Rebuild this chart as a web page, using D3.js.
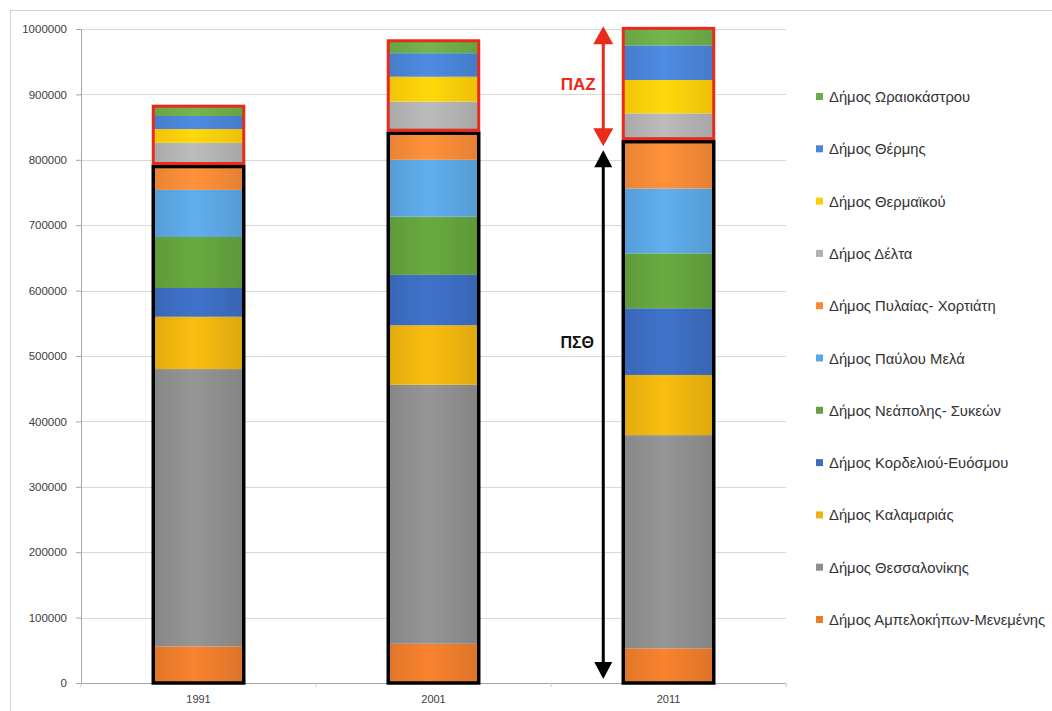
<!DOCTYPE html>
<html>
<head>
<meta charset="utf-8">
<script src="https://cdn.jsdelivr.net/npm/d3@7"></script>
<style>
  body { margin: 0; background: white; }
  text { font-family: "Liberation Sans", "DejaVu Sans", sans-serif; }
  .tick text { fill: #404040; font-size: 11.5px; }
  .legend-text { fill: #333; font-size: 14.8px; }
</style>
</head>
<body>
<svg width="1052" height="711"></svg>
<script>
// stacking order, bottom to top
const municipalities = [
  'Δήμος Αμπελοκήπων-Μενεμένης',
  'Δήμος Θεσσαλονίκης',
  'Δήμος Καλαμαριάς',
  'Δήμος Κορδελιού-Ευόσμου',
  'Δήμος Νεάπολης- Συκεών',
  'Δήμος Παύλου Μελά',
  'Δήμος Πυλαίας- Χορτιάτη',
  'Δήμος Δέλτα',
  'Δήμος Θερμαϊκού',
  'Δήμος Θέρμης',
  'Δήμος Ωραιοκάστρου'
]
const colors = ['#EC7C2C', '#8E8E8E', '#EDB40F', '#3C6DC0', '#64A23D', '#5BA6E3',
                '#F58A38', '#B2B2B2', '#FFCE0A', '#4A84D6', '#6DAD49']

const years = ['1991', '2001', '2011']
const values1991 = [56000, 424000, 80000, 44000, 78000, 72000, 38000, 34000, 21000, 20000, 15000]
const values2001 = [60000, 396000, 91000, 77000, 89000, 87000, 43000, 46000, 38000, 36000, 19000]
const values2011 = [53000, 326000, 92000, 102000, 84000, 99000, 74000, 41000, 51000, 53000, 26000]

const yTicks = [0, 100000, 200000, 300000, 400000, 500000, 600000, 700000, 800000, 900000, 1000000]

// first 7 municipalities = ΠΣΘ, last 4 = ΠΑΖ
const groupPSTh = 'ΠΣΘ'
const groupPAZ = 'ΠΑΖ'
const splitIndex = 7

;(function(d3){
    const svg = d3.select('svg')
    const plotLeft = 81, plotRight = 786, plotTop = 29, plotBottom = 683

    const table = years.map((y, i) => {
        const row = { year: y }
        const vals = [values1991, values2001, values2011][i]
        municipalities.forEach((m, j) => row[m] = vals[j])
        return row
    })
    const stacked = d3.stack().keys(municipalities)(table)

    const xScale = d3.scaleBand()
        .domain(years)
        .range([plotLeft, plotRight])
        .paddingInner(0.615)
        .paddingOuter(0.3075)
    const yScale = d3.scaleLinear()
        .domain([0, 1000000])
        .range([plotBottom, plotTop])

    // outer frame
    svg.append('rect')
        .attr('x', 10.5).attr('y', 10.5)
        .attr('width', 1045).attr('height', 720)
        .attr('fill', 'none').attr('stroke', '#d4d4d4')

    // gradients, lighter toward the middle of the bar
    const defs = svg.append('defs')
    colors.forEach((c, i) => {
        const g = defs.append('linearGradient').attr('id', 'grad' + i)
            .attr('x1', '0%').attr('x2', '100%').attr('y1', '0%').attr('y2', '0%')
        const base = d3.color(c)
        g.append('stop').attr('offset', '0%').attr('stop-color', base.darker(0.15))
        g.append('stop').attr('offset', '45%').attr('stop-color', base.brighter(0.15))
        g.append('stop').attr('offset', '100%').attr('stop-color', base.darker(0.2))
    })

    // gridlines
    svg.append('g').selectAll('line')
        .data(yTicks)
        .enter().append('line')
        .attr('x1', plotLeft).attr('x2', plotRight)
        .attr('y1', d => Math.round(yScale(d)) + 0.5)
        .attr('y2', d => Math.round(yScale(d)) + 0.5)
        .attr('stroke', '#d9d9d9')

    // y axis
    const yAxisG = svg.append('g')
        .attr('transform', `translate(${plotLeft}, 0)`)
        .call(d3.axisLeft(yScale).tickValues(yTicks).tickFormat(d3.format('d')).tickSize(5).tickPadding(9))
    yAxisG.select('.domain').attr('stroke', '#a6a6a6')
    yAxisG.selectAll('.tick line').attr('stroke', '#a6a6a6')

    // x axis
    const xAxisG = svg.append('g')
        .attr('transform', `translate(0, ${plotBottom})`)
        .call(d3.axisBottom(xScale).tickSize(0).tickPadding(12))
    xAxisG.select('.domain').attr('stroke', '#a6a6a6')
    xAxisG.selectAll('.tick text').style('font-size', '11px')
    xAxisG.selectAll('.sep')
        .data(d3.range(years.length + 1))
        .enter().append('line')
        .attr('x1', i => plotLeft + i * xScale.step())
        .attr('x2', i => plotLeft + i * xScale.step())
        .attr('y1', 0).attr('y2', 4)
        .attr('stroke', '#c8c8c8')

    // stacked segments
    const layers = svg.append('g').selectAll('g')
        .data(stacked)
        .enter().append('g')
        .attr('fill', (d, i) => `url(#grad${i})`)
    layers.selectAll('rect')
        .data(d => d)
        .enter().append('rect')
        .attr('x', d => xScale(d.data.year))
        .attr('width', xScale.bandwidth())
        .attr('y', d => yScale(d[1]))
        .attr('height', d => yScale(d[0]) - yScale(d[1]))

    // group boxes
    const boxG = svg.append('g').attr('fill', 'none')
    years.forEach((y, i) => {
        const low = stacked[splitIndex - 1][i][1]
        const top = stacked[municipalities.length - 1][i][1]
        boxG.append('rect')
            .attr('x', xScale(y)).attr('width', xScale.bandwidth())
            .attr('y', yScale(low) + 1.5).attr('height', yScale(0) - yScale(low) - 1.5)
            .attr('stroke', '#000').attr('stroke-width', 3.5)
        boxG.append('rect')
            .attr('x', xScale(y)).attr('width', xScale.bandwidth())
            .attr('y', yScale(top)).attr('height', yScale(low) - yScale(top) - 1.5)
            .attr('stroke', '#EA2A1A').attr('stroke-width', 3)
    })

    // annotation arrows for the last year
    const lastYear = years[years.length - 1]
    const li = years.length - 1
    const ax = xScale(lastYear) - 20
    const psthTop = stacked[splitIndex - 1][li][1]
    const pazTop = stacked[municipalities.length - 1][li][1]

    const arrow = (y1, y2, color, headW, headH) => {
        const g = svg.append('g')
        const top = Math.min(y1, y2), bottom = Math.max(y1, y2)
        g.append('line')
            .attr('x1', ax).attr('x2', ax)
            .attr('y1', top + headH - 2).attr('y2', bottom - headH + 2)
            .attr('stroke', color).attr('stroke-width', 3)
        g.append('path')
            .attr('d', `M${ax},${top} L${ax - headW / 2},${top + headH} L${ax + headW / 2},${top + headH} Z`)
            .attr('fill', color)
        g.append('path')
            .attr('d', `M${ax},${bottom} L${ax - headW / 2},${bottom - headH} L${ax + headW / 2},${bottom - headH} Z`)
            .attr('fill', color)
    }
    arrow(yScale(0) - 4, yScale(psthTop) + 10, '#000', 18, 17)
    arrow(yScale(psthTop) + 6, yScale(pazTop) - 2, '#EA2A1A', 20, 18)

    svg.append('text')
        .text(groupPAZ)
        .attr('x', ax - 25).attr('y', (yScale(psthTop) + yScale(pazTop)) / 2 + 6)
        .attr('text-anchor', 'middle')
        .attr('fill', '#EA2A1A')
        .style('font-size', '17px').style('font-weight', 'bold')
    svg.append('text')
        .text(groupPSTh)
        .attr('x', ax - 26).attr('y', 348)
        .attr('text-anchor', 'middle')
        .attr('fill', '#111')
        .style('font-size', '16px').style('font-weight', 'bold')

    // legend, top item = top of stack
    const legendOrder = municipalities.map((m, i) => ({ name: m, color: colors[i] })).reverse()
    const legendG = svg.append('g')
        .attr('transform', 'translate(816, 97)')
    const item = legendG.selectAll('g')
        .data(legendOrder)
        .enter().append('g')
        .attr('transform', (d, i) => `translate(0, ${i * 52.3})`)
    item.append('rect')
        .attr('x', 0).attr('y', -4)
        .attr('width', 7).attr('height', 7)
        .attr('fill', d => d.color)
    item.append('text')
        .attr('class', 'legend-text')
        .attr('x', 13).attr('y', 5)
        .text(d => d.name)
}(d3))
</script>
</body>
</html>
